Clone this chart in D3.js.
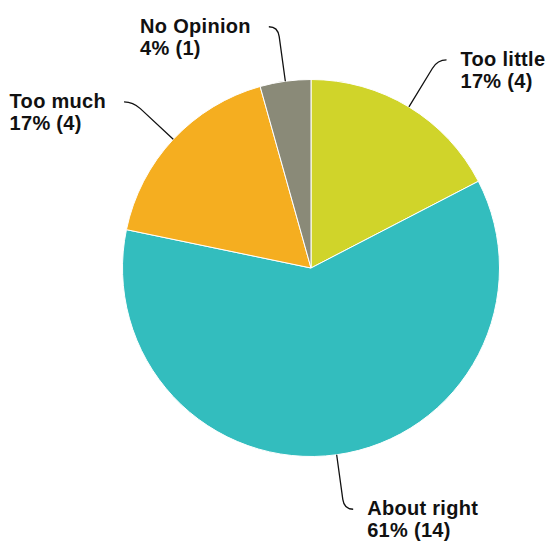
<!DOCTYPE html>
<html>
<head>
<meta charset="utf-8">
<script src="https://cdn.jsdelivr.net/npm/d3@7"></script>
<style>
  html, body { margin: 0; padding: 0; background: #fff; }
  svg { display: block; }
  .lbl { font-family: "Liberation Sans", Arial, sans-serif; font-weight: bold; font-size: 20px; letter-spacing: 0.3px; fill: #111; }
</style>
</head>
<body>
<svg id="chart" width="550" height="542"></svg>
<script>
// Survey answers, drawn clockwise from 12 o'clock
const categories = ["Too little", "About right", "Too much", "No Opinion"];
const counts = [4, 14, 4, 1];
const colors = ["#d0d42a", "#33bdbe", "#f5ae20", "#8a8a78"];

const width = 550, height = 542;
const cx = 311, cy = 268, radius = 188.5;
const leader = 55;   // radial part of the leader line
const tail = 9;      // horizontal part of the leader line

const total = d3.sum(counts);
const rows = categories.map((c, i) => ({ name: c, value: counts[i], color: colors[i] }));

const svg = d3.select("#chart");
const g = svg.append("g").attr("transform", `translate(${cx},${cy})`);

const pie = d3.pie().value(d => d.value).sort(null);
const arc = d3.arc().innerRadius(0).outerRadius(radius);
const arcs = pie(rows);

g.selectAll("path.slice")
  .data(arcs)
  .join("path")
  .attr("class", "slice")
  .attr("d", arc)
  .attr("fill", d => d.data.color)
  .attr("stroke", "#fff")
  .attr("stroke-width", 1);

// Leader lines: out along the slice's mid-angle, then a short horizontal hook
arcs.forEach(a => {
  const mid = (a.startAngle + a.endAngle) / 2;
  const dx = Math.sin(mid), dy = -Math.cos(mid);
  const sx = radius * dx, sy = radius * dy;
  const ex = (radius + leader) * dx, ey = (radius + leader) * dy;
  const side = dx >= 0 ? 1 : -1;
  const bx = ex - 10 * dx, by = ey - 10 * dy;
  const tx = ex + tail * side, ty = ey;

  g.append("path")
    .attr("d", `M${sx},${sy} L${bx},${by} Q${ex},${ey} ${tx},${ty}`)
    .attr("fill", "none")
    .attr("stroke", "#111")
    .attr("stroke-width", 1.3);

  // Two-line label block, left-aligned; on the left side the block ends near the hook
  const pct = Math.round(a.data.value / total * 100);
  const text = g.append("text")
    .attr("class", "lbl")
    .attr("y", ty + 6);
  const l1 = text.append("tspan").text(a.data.name);
  const l2 = text.append("tspan").attr("dy", 22).text(`${pct}% (${a.data.value})`);
  const w = Math.max(l1.node().getComputedTextLength(), l2.node().getComputedTextLength());
  const x0 = side > 0 ? tx + 14 : tx - 18 - w;
  l1.attr("x", x0);
  l2.attr("x", x0);
});
</script>
</body>
</html>
